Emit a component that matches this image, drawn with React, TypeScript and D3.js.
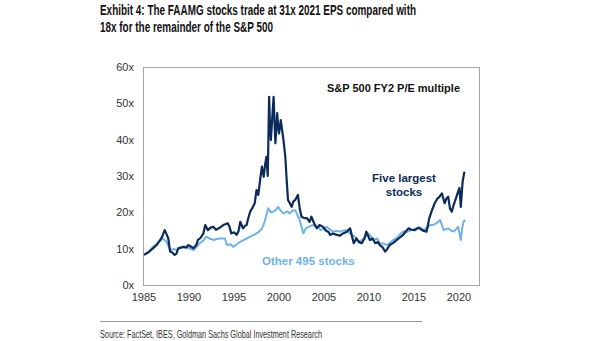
import React from "react";
import * as d3 from "d3";

const titleLines = [
  "Exhibit 4: The FAAMG stocks trade at 31x 2021 EPS compared with",
  "18x for the remainder of the S&P 500",
];
const sourceText = "Source: FactSet, IBES, Goldman Sachs Global Investment Research";

const yTicks = [0, 10, 20, 30, 40, 50, 60];
const xTicks = [1985, 1990, 1995, 2000, 2005, 2010, 2015, 2020];

// Five largest stocks (decimal year, P/E)
const largeDates = [
  1985.0, 1985.5, 1986.0, 1986.4, 1986.8, 1987.0, 1987.3, 1987.5, 1987.7, 1987.9,
  1988.1, 1988.4, 1988.6, 1988.8, 1989.1, 1989.4, 1989.7, 1989.9, 1990.2, 1990.5,
  1990.8, 1991.0, 1991.3, 1991.6, 1991.8, 1992.1, 1992.4, 1992.7, 1993.0, 1993.3,
  1993.6, 1993.8, 1994.1, 1994.3, 1994.5, 1994.7, 1995.0, 1995.3, 1995.5, 1995.7,
  1996.0, 1996.2, 1996.4, 1996.6, 1996.8, 1997.0, 1997.3, 1997.5, 1997.7, 1997.9,
  1998.1, 1998.3, 1998.45, 1998.6, 1998.75, 1998.9, 1999.0, 1999.1, 1999.25, 1999.4,
  1999.5, 1999.6, 1999.7, 1999.8, 1999.9, 2000.0, 2000.1, 2000.2, 2000.35, 2000.5,
  2000.7, 2000.85, 2001.0, 2001.2, 2001.4, 2001.6, 2001.8, 2002.1, 2002.3, 2002.5,
  2002.8, 2003.1, 2003.4, 2003.6, 2003.9, 2004.2, 2004.5, 2004.9, 2005.2, 2005.5,
  2005.7, 2006.0, 2006.4, 2006.8, 2007.1, 2007.5, 2007.9, 2008.1, 2008.3, 2008.6,
  2008.9, 2009.2, 2009.5, 2009.7, 2010.1, 2010.4, 2010.7, 2011.0, 2011.2, 2011.5,
  2011.8, 2012.0, 2012.3, 2012.7, 2013.1, 2013.4, 2013.8, 2014.1, 2014.4, 2014.7,
  2015.1, 2015.5, 2015.9, 2016.1, 2016.4, 2016.7, 2017.0, 2017.3, 2017.6, 2017.8,
  2018.1, 2018.4, 2018.6, 2018.8, 2019.0, 2019.2, 2019.4, 2019.6, 2019.9, 2020.05,
  2020.2, 2020.4, 2020.6,
];
const largeValues = [
  8.3, 9.0, 10.1, 11.0, 12.4, 13.2, 15.1, 14.0, 12.8, 9.2,
  9.0, 8.3, 8.6, 10.1, 10.3, 10.5, 10.3, 11.0, 10.6, 10.1,
  11.0, 12.4, 13.0, 14.2, 16.5, 15.1, 15.8, 16.0, 15.2, 15.6,
  16.1, 16.5, 16.8, 17.0, 16.0, 14.2, 14.5, 13.8, 14.8, 17.4,
  15.6, 16.2, 16.5, 18.5, 20.2, 21.0, 22.5, 26.1, 24.8, 28.9,
  32.6, 29.8, 33.0, 35.3, 30.0, 51.8, 44.0, 39.9, 46.0, 51.8,
  45.0, 39.0, 43.0, 47.3, 44.0, 41.7, 43.5, 45.4, 42.5, 39.9,
  35.3, 29.0, 23.4, 22.5, 21.5, 23.0, 23.4, 24.8, 21.1, 18.8,
  18.4, 18.4, 17.4, 18.8, 17.0, 15.6, 16.5, 16.0, 15.0, 14.6,
  13.8, 14.2, 13.8, 13.6, 14.2, 14.6, 15.6, 13.5, 11.5, 12.8,
  11.8, 11.5, 12.8, 14.7, 12.4, 12.8, 11.5, 11.8, 11.0, 10.4,
  9.2, 9.8, 11.0, 11.6, 12.4, 13.0, 13.8, 14.8, 15.6, 15.2,
  15.1, 15.8, 15.1, 14.9, 14.7, 18.4, 20.6, 22.5, 23.8, 24.2,
  25.2, 22.5, 23.8, 24.3, 21.0, 20.2, 22.0, 23.4, 25.7, 26.7,
  21.5, 28.4, 31.2,
];

// Other 495 stocks
const otherDates = [
  1985.0, 1985.5, 1986.0, 1986.5, 1987.1, 1987.5, 1987.9, 1988.3, 1988.6, 1989.0,
  1989.4, 1989.7, 1990.1, 1990.5, 1990.9, 1991.2, 1991.6, 1991.9, 1992.3, 1992.7,
  1993.0, 1993.4, 1994.0, 1994.2, 1994.6, 1994.9, 1995.3, 1995.7, 1996.0, 1996.4,
  1996.8, 1997.2, 1997.7, 1998.1, 1998.4, 1998.8, 1999.1, 1999.4, 1999.7, 1999.9,
  2000.2, 2000.5, 2000.9, 2001.2, 2001.5, 2001.8, 2002.1, 2002.3, 2002.7, 2003.0,
  2003.3, 2003.8, 2004.1, 2004.4, 2004.6, 2005.0, 2005.3, 2005.7, 2006.0, 2006.4,
  2006.8, 2007.2, 2007.5, 2008.1, 2008.5, 2008.8, 2009.1, 2009.4, 2009.9, 2010.2,
  2010.5, 2010.9, 2011.2, 2011.6, 2012.0, 2012.4, 2012.7, 2013.1, 2013.4, 2013.8,
  2014.2, 2014.7, 2015.3, 2015.7, 2016.1, 2016.5, 2016.8, 2017.2, 2017.5, 2017.9,
  2018.3, 2018.6, 2018.8, 2019.1, 2019.4, 2019.7, 2019.9, 2020.2, 2020.35, 2020.5,
  2020.7,
];
const otherValues = [
  8.3, 9.2, 10.5, 11.5, 12.8, 11.9, 9.6, 9.9, 9.6, 10.2,
  10.5, 10.5, 10.0, 9.6, 10.6, 11.5, 12.2, 13.3, 12.8, 12.4,
  12.6, 12.8, 12.8, 11.0, 11.2, 10.5, 11.2, 11.9, 12.3, 12.8,
  13.3, 13.8, 14.5, 15.5, 17.4, 21.1, 20.0, 20.2, 20.8, 21.5,
  20.4, 19.7, 20.3, 19.7, 20.5, 20.6, 19.0, 17.9, 14.2, 15.6,
  16.0, 16.5, 16.0, 16.0, 15.1, 15.5, 16.0, 15.2, 14.7, 14.9,
  14.7, 15.0, 15.1, 13.8, 13.2, 11.9, 12.2, 12.8, 14.2, 13.5,
  12.4, 12.8, 11.5, 11.4, 11.0, 11.8, 12.4, 13.0, 13.8, 14.7,
  14.6, 15.1, 15.6, 15.8, 15.1, 15.9, 16.5, 16.6, 17.0, 17.9,
  15.1, 15.4, 15.6, 15.0, 14.7, 15.4, 16.0, 12.4, 15.5, 17.4,
  17.9,
];

const NAVY = "#0c2a5a";
const LIGHT = "#6db3e8";
const FONT = "'Liberation Sans', Arial, Helvetica, sans-serif";
const NARROW = "'Liberation Sans Narrow', 'Arial Narrow', 'Liberation Sans', Arial, sans-serif";

export default function App() {
  const W = 605;
  const H = 341;
  const left = 143;
  const right = 479;
  const top = 67;
  const bottom = 285;

  const x = d3.scaleLinear().domain([1985, 2020]).range([144, 459]);
  const y = d3.scaleLinear().domain([0, 60]).range([bottom, top]);

  const line = d3
    .line<[number, number]>()
    .x((d) => x(d[0]))
    .y((d) => y(d[1]))
    .curve(d3.curveLinear);

  const largeData = largeDates.map((d, i) => [d, largeValues[i]] as [number, number]);
  const otherData = otherDates.map((d, i) => [d, otherValues[i]] as [number, number]);

  return (
    <svg width={W} height={H} style={{ position: "absolute", left: 0, top: 0, background: "#fff" }}>
      <rect x={0} y={0} width={W} height={H} fill="#fff" />
      {titleLines.map((t, i) => (
        <text
          key={i}
          x={100}
          y={15 + i * 17}
          fontFamily={NARROW}
          fontWeight="bold"
          fontSize={14.5}
          fill="#111"
          textLength={i === 0 ? 316 : 173}
          lengthAdjust="spacingAndGlyphs"
        >
          {t}
        </text>
      ))}

      {/* plot frame */}
      <rect x={left + 0.5} y={top + 0.5} width={right - left} height={bottom - top} fill="none" stroke="#a6a6a6" strokeWidth={1} />

      {yTicks.map((t) => (
        <text
          key={t}
          x={134}
          y={y(t)}
          dy="0.35em"
          textAnchor="end"
          fontFamily={FONT}
          fontSize={11}
          fill="#333"
        >
          {t}x
        </text>
      ))}
      {xTicks.map((t) => (
        <text
          key={t}
          x={x(t)}
          y={300.5}
          textAnchor="middle"
          fontFamily={FONT}
          fontSize={11}
          fill="#333"
        >
          {t}
        </text>
      ))}

      <path d={line(otherData) || ""} fill="none" stroke={LIGHT} strokeWidth={2} strokeLinejoin="round" />
      <path d={line(largeData) || ""} fill="none" stroke={NAVY} strokeWidth={2.2} strokeLinejoin="round" />

      <text x={327} y={92} fontFamily={FONT} fontWeight="bold" fontSize={11} fill="#111" textLength={133} lengthAdjust="spacingAndGlyphs">
        S&amp;P 500 FY2 P/E multiple
      </text>
      <text x={404} y={182} textAnchor="middle" fontFamily={FONT} fontWeight="bold" fontSize={11.5} fill={NAVY}>
        Five largest
      </text>
      <text x={404} y={196} textAnchor="middle" fontFamily={FONT} fontWeight="bold" fontSize={11.5} fill={NAVY}>
        stocks
      </text>
      <text x={262} y={265} fontFamily={FONT} fontWeight="bold" fontSize={11.5} fill={LIGHT}>
        Other 495 stocks
      </text>

      <line x1={100} x2={422} y1={321.5} y2={321.5} stroke="#9a9a9a" strokeWidth={1.2} />
      <text x={100} y={337.5} fontFamily={NARROW} fontSize={11.5} fill="#333" textLength={222} lengthAdjust="spacingAndGlyphs">
        {sourceText}
      </text>
    </svg>
  );
}
